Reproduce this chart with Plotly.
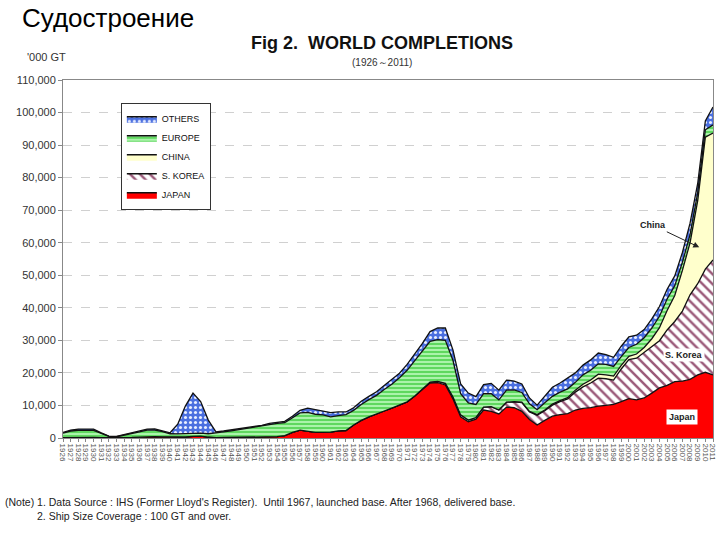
import plotly.graph_objects as go

years = list(range(1926, 2012))
year_labels = [str(y) for y in years]

japan = [100, 150, 150, 150, 150, 100, 80, 80, 100, 150,
         250, 400, 400, 350, 300, 250, 300, 500, 600, 300,
         100, 150, 200, 200, 300, 400, 500, 500, 400, 700,
         1700, 2400, 2100, 1700, 1700, 1800, 2200, 2300, 4000, 5400,
         6500, 7300, 8300, 9200, 10100, 11100, 12900, 14800, 16900, 17000,
         16300, 12000, 6500, 5000, 5800, 8600, 8200, 7400, 9500, 9300,
         8200, 5700, 4000, 5400, 6700, 7200, 7500, 8600, 9100, 9300,
         9800, 10000, 10300, 11200, 12100, 11700, 12300, 13800, 15400, 16200,
         17300, 17500, 18000, 19400, 20200, 19400]
korea = [0] * 47 + [100, 300, 400,
         500, 600, 600, 500, 500, 900, 1400, 1200, 1500, 1800,
         2700, 2300, 3000, 3000, 3400, 4000, 4500, 5500, 6600, 7600,
         8600, 8200, 7500, 10000, 12000, 12800, 14000, 14200, 14500, 17000,
         18500, 21500, 26000, 28000, 31700, 35300]
china = [0] * 59 + [100,
         100, 200, 200, 200, 300, 300, 400, 600, 800, 900,
         1200, 1200, 1200, 1100, 1000, 1300, 1500, 2500, 4000, 6000,
         8000, 12500, 16000, 25500, 40500, 39000]
europe = [1400, 2000, 2200, 2200, 2200, 1300, 400, 300, 700, 1100,
          1600, 2000, 2000, 1600, 1000, 1000, 1000, 1000, 900, 1000,
          1400, 1700, 2000, 2400, 2600, 2900, 3100, 3600, 4100, 4000,
          4500, 5300, 5800, 5600, 5400, 4700, 4700, 4900, 4500, 4900,
          5300, 5800, 6600, 7300, 8400, 9700, 10900, 11900, 12500, 12800,
          13200, 11200, 6500, 5300, 4000, 4100, 4000, 3100, 3700, 3600,
          3000, 2300, 1500, 2200, 2400, 2600, 2700, 2400, 2900, 3000,
          3200, 3200, 3000, 2700, 2700, 3000, 3000, 3300, 3500, 3500,
          3000, 2500, 2500, 2500, 2300, 2500]
others = [200, 300, 400, 400, 400, 200, 100, 100, 200, 200,
          200, 300, 400, 300, 300, 3000, 8500, 12300, 9700, 4200,
          400, 300, 300, 300, 300, 300, 300, 400, 400, 400,
          500, 800, 1300, 1400, 1300, 1300, 1100, 800, 800, 1000,
          1000, 1100, 1200, 1400, 1400, 1800, 2000, 2300, 3000, 3600,
          3800, 3200, 3000, 3000, 2400, 2800, 3200, 3000, 3100, 2700,
          2600, 1800, 1400, 2100, 2800, 2800, 3300, 2900, 3000, 3200,
          3300, 3000, 2800, 3200, 3300, 2800, 2500, 2800, 3000, 3000,
          3000, 3000, 3500, 2800, 2700, 5500]

FONT = "Liberation Sans"

fig = go.Figure()
common = dict(x=years, stackgroup="one", mode="lines", hoverinfo="skip",
              line=dict(color="#111111", width=1.3))

fig.add_trace(go.Scatter(y=japan, name="JAPAN", fillcolor="#ff0000", **common))
fig.add_trace(go.Scatter(y=korea, name="S. KOREA", fillcolor="white",
                         fillpattern=dict(shape="\\", fgcolor="#9a5878", bgcolor="white",
                                          size=7, solidity=0.35, fillmode="replace"), **common))
fig.add_trace(go.Scatter(y=china, name="CHINA", fillcolor="#ffffcc", **common))
fig.add_trace(go.Scatter(y=europe, name="EUROPE", fillcolor="#66dd66",
                         fillpattern=dict(shape="-", fgcolor="#ccffcc", bgcolor="#5fd85f",
                                          size=4, solidity=0.35, fillmode="replace"), **common))
fig.add_trace(go.Scatter(y=others, name="OTHERS", fillcolor="#4a6fe0",
                         fillpattern=dict(shape=".", fgcolor="#e8eeff", bgcolor="#4a6fe0",
                                          size=5, solidity=0.3, fillmode="replace"), **common))

fig.update_layout(
    width=720, height=540,
    margin=dict(l=63, r=7, t=80, b=102, autoexpand=False),
    paper_bgcolor="white", plot_bgcolor="white",
    font=dict(family=FONT, color="#333333"),
    showlegend=True,
    legend=dict(x=0.089, y=0.935, xanchor="left", yanchor="top",
                traceorder="reversed", bgcolor="white", bordercolor="#333333",
                borderwidth=1, font=dict(size=9, family=FONT, color="#111111"),
                tracegroupgap=0, itemwidth=30),
    xaxis=dict(range=[1926, 2011], tickmode="array", tickvals=years, ticktext=year_labels,
               tickangle=90, tickfont=dict(size=8, color="#555555"), automargin=False,
               showline=True, linecolor="#888888", mirror=True, showgrid=False,
               ticks="outside", ticklen=3, tickcolor="#888888", zeroline=False),
    yaxis=dict(range=[0, 110000], tickmode="linear", dtick=10000, tickformat=",d",
               tickfont=dict(size=11, color="#333333"), automargin=False,
               showline=True, linecolor="#888888", mirror=True,
               showgrid=True, gridcolor="#d0d0d0", griddash="dash", gridwidth=1,
               ticks="outside", ticklen=4, tickcolor="#888888", zeroline=False),
    annotations=[
        dict(text="Судостроение", xref="paper", yref="paper", x=-0.066, y=1.173,
             xanchor="left", yanchor="middle", showarrow=False,
             font=dict(size=26, family=FONT, color="#000000")),
        dict(text="<b>Fig 2.  WORLD COMPLETIONS</b>", xref="paper", yref="paper",
             x=0.49, y=1.102, xanchor="center", yanchor="middle", showarrow=False,
             font=dict(size=18, family=FONT, color="#111111")),
        dict(text="(1926～2011)", xref="paper", yref="paper",
             x=0.49, y=1.050, xanchor="center", yanchor="middle", showarrow=False,
             font=dict(size=10, family=FONT, color="#333333")),
        dict(text="'000 GT", xref="paper", yref="paper", x=-0.058, y=1.064,
             xanchor="left", yanchor="middle", showarrow=False,
             font=dict(size=11, family=FONT, color="#333333")),
        dict(text="<b>China</b>", xref="x", yref="y", x=2009.2, y=58600,
             ax=-46, ay=-22, showarrow=True, arrowhead=2, arrowsize=1.2,
             arrowwidth=1, arrowcolor="#222222",
             font=dict(size=9, family=FONT, color="#222222")),
        dict(text="<b>S. Korea</b>", xref="x", yref="y", x=2007.2, y=25500,
             showarrow=False, bgcolor="white",
             font=dict(size=9, family=FONT, color="#222222")),
        dict(text="<b>Japan</b>", xref="x", yref="y", x=2006.9, y=6400,
             showarrow=False, bgcolor="white", borderpad=2,
             font=dict(size=9, family=FONT, color="#222222")),
        dict(text="(Note) 1. Data Source : IHS (Former Lloyd's Register).  Until 1967, launched base. After 1968, delivered base.",
             xref="paper", yref="paper", x=-0.093, y=-0.18, xanchor="left", yanchor="middle",
             showarrow=False, font=dict(size=10.5, family=FONT, color="#222222")),
        dict(text="2. Ship Size Coverage : 100 GT and over.",
             xref="paper", yref="paper", x=-0.043, y=-0.218, xanchor="left", yanchor="middle",
             showarrow=False, font=dict(size=10.5, family=FONT, color="#222222")),
    ],
)

fig.write_html("out.html", config={"displayModeBar": False},
               post_script="document.body.style.margin='0';")
